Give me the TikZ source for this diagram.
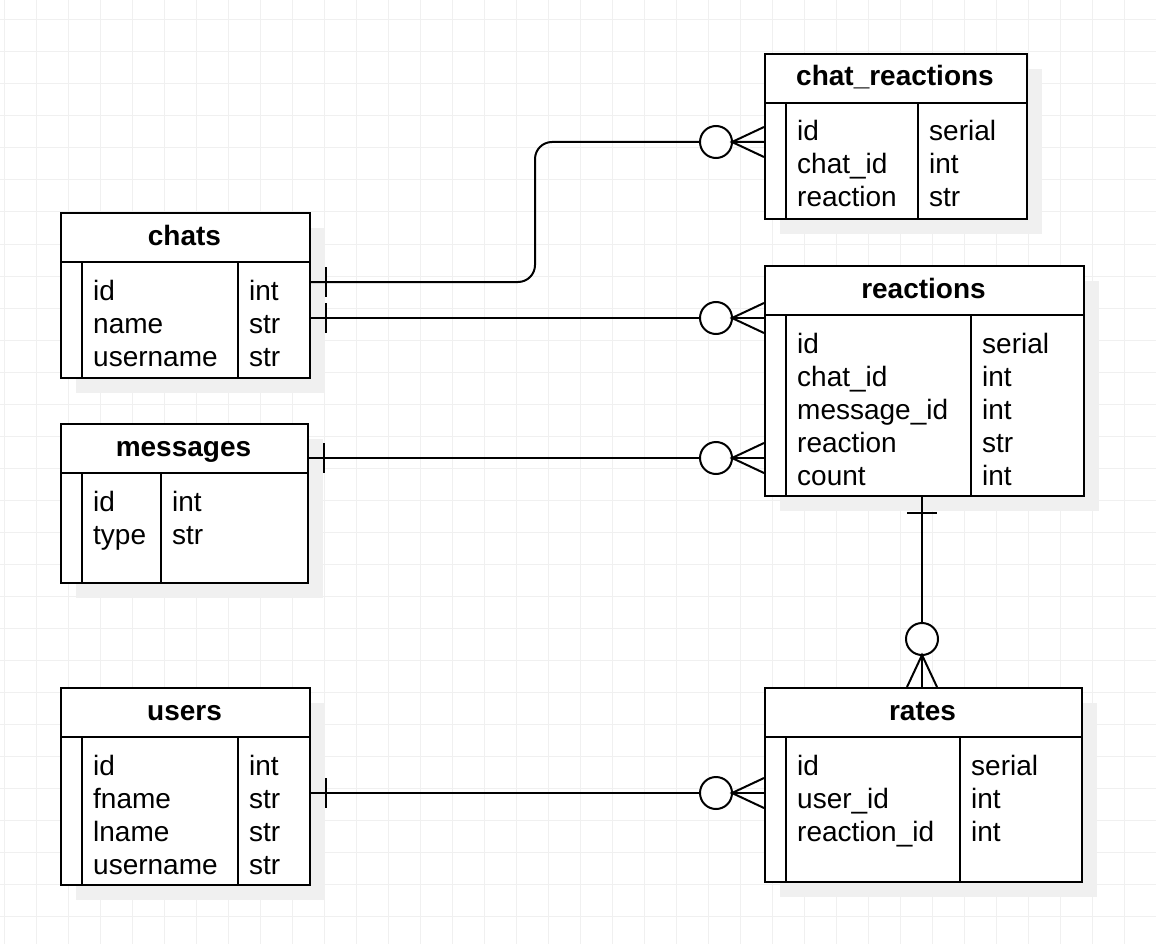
\documentclass[tikz,border=0pt]{standalone}
\usepackage{fontspec}
\setmainfont{Liberation Sans}

% Entity box: shadow, frame, header rule, key strip and type column, title.
% #1 name, #2 left x, #3 top y, #4 width, #5 height, #6 type column x, #7 title
\newcommand\ertable[7]{%
  \fill[shadowfill] (#2+16,#3+16) rectangle ++(#4,#5);
  \node[tablebox, minimum width=#4pt, minimum height=#5pt] (#1) at (#2,#3) {};
  \draw[rule] (#2,#3+50) -- ++(#4,0);
  \draw[rule] (#2+22,#3+50) -- (#2+22,#3+#5);
  \draw[rule] (#6,#3+50) -- (#6,#3+#5);
  \node[titletext] (#1-title) at (#2+#4/2,#3+33) {#7};
}
% Mandatory-one bar just outside the east side of a table (line leaves to the right)
\newcommand\onebarh[1]{\draw[conn] ([xshift=15pt,yshift=15pt]#1) -- ([xshift=15pt,yshift=-15pt]#1);}
% Zero-or-many end meeting the west side of a table
\newcommand\zeromanyh[1]{%
  \draw[conn, fill=white] ([xshift=-48pt]#1) circle[radius=16pt];
  \draw[conn] ([yshift=15pt]#1) -- ([xshift=-32pt]#1) -- ([yshift=-15pt]#1);}

\begin{document}
\begin{tikzpicture}[x=1pt,y=-1pt,
  gridline/.style={draw=black!6, line width=1pt},
  shadowfill/.style={fill=black!6},
  tablebox/.style={draw=black, line width=2pt, fill=white, inner sep=0pt, anchor=north west},
  rule/.style={draw=black, line width=2pt},
  titletext/.style={anchor=base, inner sep=0pt, font=\fontsize{28}{33}\selectfont\bfseries},
  fieldtext/.style={anchor=base west, inner sep=0pt, font=\fontsize{28}{33}\selectfont},
  conn/.style={draw=black, line width=2pt},
]
\useasboundingbox (0,0) rectangle (1156,944);
\fill[white] (0,0) rectangle (1156,944);
\foreach \gx in {4,36,...,1156} \draw[gridline] (\gx,0) -- (\gx,944);
\foreach \gy in {20,52,...,944} \draw[gridline] (0,\gy) -- (1156,\gy);

% ---- tables ----
\ertable{chats}{60}{212}{249}{165}{238}{chats}
\foreach \f/\t [count=\i] in {id/int, name/str, username/str} {
  \node[fieldtext] (chats-f\i) at (93,300+33*\i-33) {\f};
  \node[fieldtext] (chats-t\i) at (249,300+33*\i-33) {\t};
}

\ertable{chatreactions}{764}{53}{262}{165}{918}{chat\_reactions}
\foreach \f/\t [count=\i] in {id/serial, chat\_id/int, reaction/str} {
  \node[fieldtext] (chatreactions-f\i) at (797,141+33*\i-33) {\f};
  \node[fieldtext] (chatreactions-t\i) at (929,141+33*\i-33) {\t};
}

\ertable{reactions}{764}{265}{319}{230}{971}{reactions}
\foreach \f/\t [count=\i] in {id/serial, chat\_id/int, message\_id/int, reaction/str, count/int} {
  \node[fieldtext] (reactions-f\i) at (797,353+33*\i-33) {\f};
  \node[fieldtext] (reactions-t\i) at (982,353+33*\i-33) {\t};
}

\ertable{messages}{60}{423}{247}{159}{161}{messages}
\foreach \f/\t [count=\i] in {id/int, type/str} {
  \node[fieldtext] (messages-f\i) at (93,511+33*\i-33) {\f};
  \node[fieldtext] (messages-t\i) at (172,511+33*\i-33) {\t};
}

\ertable{users}{60}{687}{249}{197}{238}{users}
\foreach \f/\t [count=\i] in {id/int, fname/str, lname/str, username/str} {
  \node[fieldtext] (users-f\i) at (93,775+33*\i-33) {\f};
  \node[fieldtext] (users-t\i) at (249,775+33*\i-33) {\t};
}

\ertable{rates}{764}{687}{317}{194}{960}{rates}
\foreach \f/\t [count=\i] in {id/serial, user\_id/int, reaction\_id/int} {
  \node[fieldtext] (rates-f\i) at (797,775+33*\i-33) {\f};
  \node[fieldtext] (rates-t\i) at (971,775+33*\i-33) {\t};
}

% ---- relationship end points ----
\coordinate (chats-out1) at ([yshift=-70pt]chats.north east);
\coordinate (chats-out2) at ([yshift=-106pt]chats.north east);
\coordinate (chatreactions-in) at ([yshift=-89pt]chatreactions.north west);
\coordinate (reactions-in1) at ([yshift=-53pt]reactions.north west);
\coordinate (reactions-in2) at ([yshift=-193pt]reactions.north west);
\coordinate (messages-out) at ([yshift=-35pt]messages.north east);
\coordinate (users-out) at ([yshift=-106pt]users.north east);
\coordinate (rates-in) at ([yshift=-106pt]rates.north west);
\coordinate (reactions-out) at ([xshift=-2.5pt]reactions.south);
\coordinate (rates-top) at (reactions-out |- rates.north);
\coordinate (bend) at (535,142);

% ---- relationships ----
\draw[conn, rounded corners=17pt] (chats-out1) -| (bend) -- (chatreactions-in);
\onebarh{chats-out1}
\zeromanyh{chatreactions-in}

\draw[conn] (chats-out2) -- (reactions-in1);
\onebarh{chats-out2}
\zeromanyh{reactions-in1}

\draw[conn] (messages-out) -- (reactions-in2);
\onebarh{messages-out}
\zeromanyh{reactions-in2}

\draw[conn] (users-out) -- (rates-in);
\onebarh{users-out}
\zeromanyh{rates-in}

% reactions (one) to rates (zero or many), vertical
\draw[conn] (reactions-out) -- (rates-top);
\draw[conn] ([xshift=-15pt,yshift=-16pt]reactions-out) -- ([xshift=15pt,yshift=-16pt]reactions-out);
\draw[conn, fill=white] ([yshift=48pt]rates-top) circle[radius=16pt];
\draw[conn] ([xshift=-15pt]rates-top) -- ([yshift=32pt]rates-top) -- ([xshift=15pt]rates-top);
\end{tikzpicture}
\end{document}
